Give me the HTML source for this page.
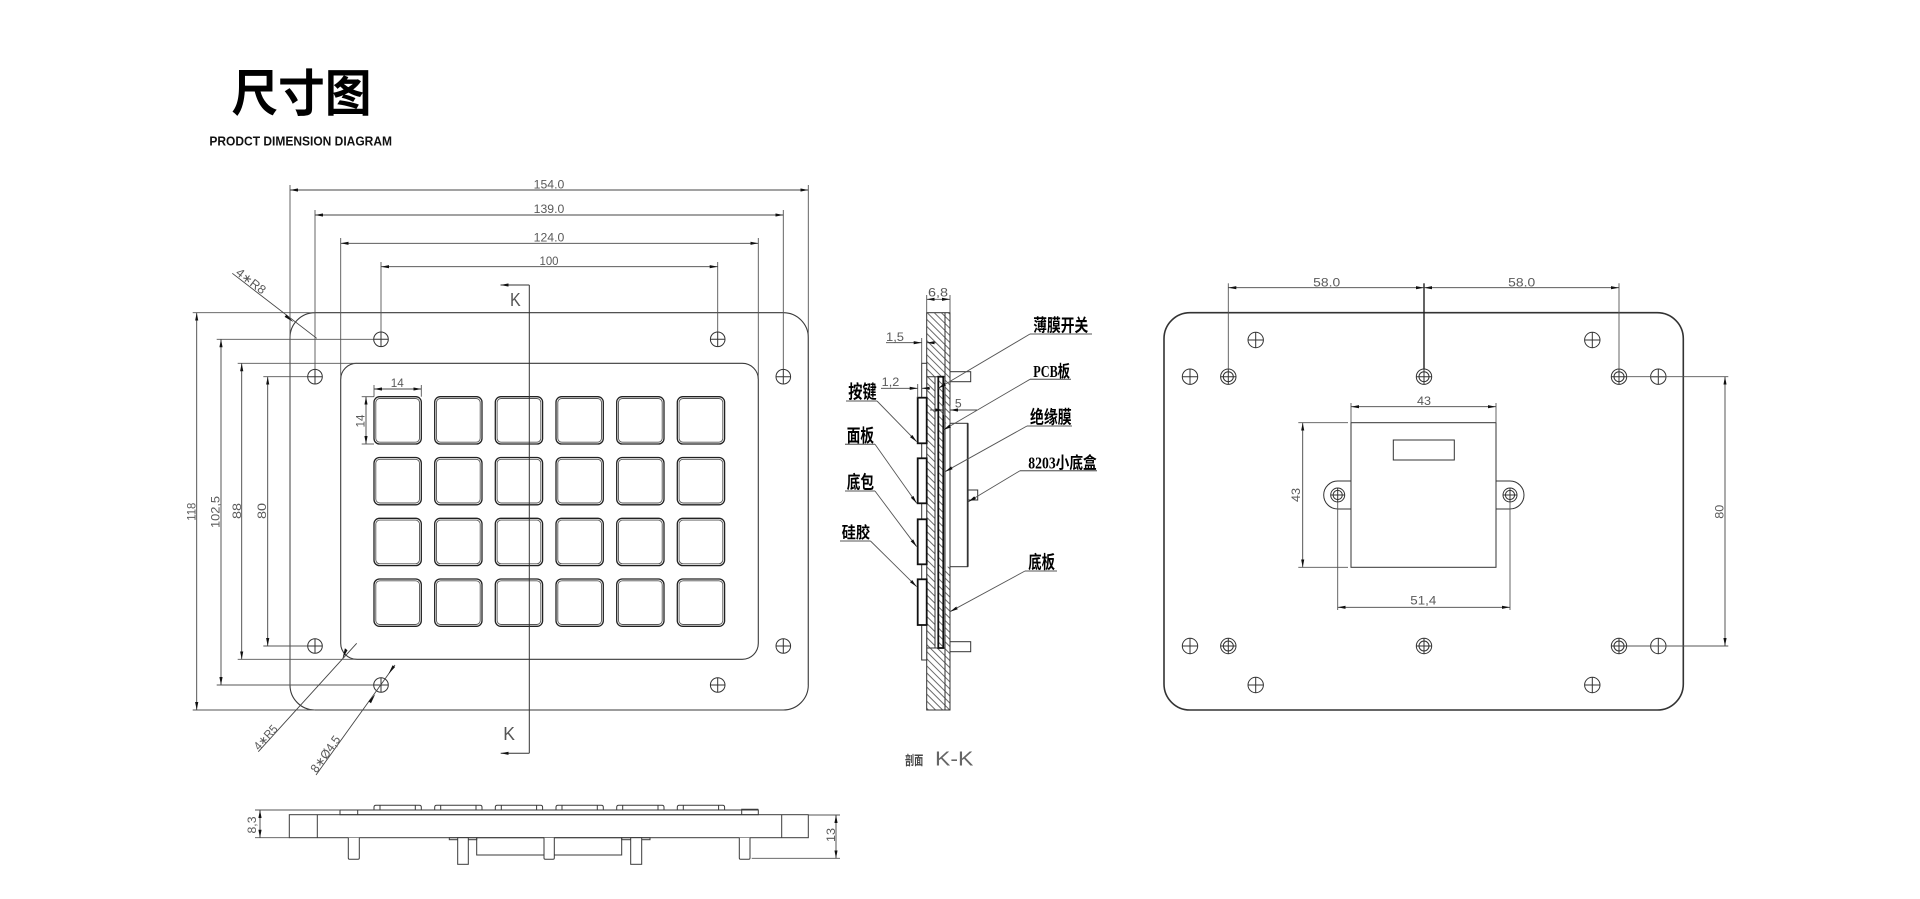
<!DOCTYPE html>
<html><head><meta charset="utf-8"><style>
html,body{margin:0;padding:0;background:#fff;}
svg{display:block;}
.d{font-family:"Liberation Sans","DejaVu Sans",sans-serif;font-size:12.2px;fill:#5a5a5a;}
.lb{font-family:"Noto Sans CJK SC","WenQuanYi Zen Hei",sans-serif;font-weight:700;fill:#000;}
.lbs{font-family:"Liberation Serif","Noto Sans CJK SC",serif;font-weight:700;fill:#000;}
</style></head><body>
<svg width="1920" height="899" viewBox="0 0 1920 899" xmlns="http://www.w3.org/2000/svg">
<defs>
<marker id="a" viewBox="0 0 10 4" refX="10" refY="2" markerWidth="8" markerHeight="3.2" markerUnits="userSpaceOnUse" orient="auto-start-reverse"><path d="M0,0L10,2L0,4z" fill="#111"/></marker>
<pattern id="h" width="5" height="5" patternUnits="userSpaceOnUse" patternTransform="rotate(45)"><line x1="0" y1="0.5" x2="5" y2="0.5" stroke="#444" stroke-width="0.8"/></pattern>
</defs>

<!-- Title -->
<text x="231.5" y="111" class="lb" font-size="50" textLength="140" lengthAdjust="spacingAndGlyphs">尺寸图</text>
<text x="209.4" y="145.7" font-family="Liberation Sans,sans-serif" font-weight="700" font-size="13.2" fill="#111" textLength="182.6" lengthAdjust="spacingAndGlyphs">PRODCT DIMENSION DIAGRAM</text>

<!-- ================= FRONT VIEW ================= -->
<g fill="none" stroke="#3a3a3a" stroke-width="1.1">
  <rect x="290" y="312.7" width="518.3" height="397.3" rx="25"/>
  <rect x="340.7" y="363.3" width="417.6" height="296" rx="16"/>
</g>
<!-- extension lines -->
<g stroke="#555" stroke-width="0.9" fill="none">
  <line x1="290" y1="185" x2="290" y2="685"/>
  <line x1="808.3" y1="185" x2="808.3" y2="685"/>
  <line x1="315" y1="210" x2="315" y2="369.5"/>
  <line x1="783.3" y1="210" x2="783.3" y2="369.5"/>
  <line x1="340.7" y1="238" x2="340.7" y2="379"/>
  <line x1="758.3" y1="238" x2="758.3" y2="379"/>
  <line x1="381" y1="262" x2="381" y2="332"/>
  <line x1="717.7" y1="262" x2="717.7" y2="332"/>
  <line x1="192.7" y1="312.7" x2="315" y2="312.7"/>
  <line x1="192.7" y1="710" x2="315" y2="710"/>
  <line x1="216.7" y1="339.3" x2="373.7" y2="339.3"/>
  <line x1="216.7" y1="685" x2="373.7" y2="685"/>
  <line x1="237.7" y1="363.3" x2="356.7" y2="363.3"/>
  <line x1="237.7" y1="659.3" x2="356.7" y2="659.3"/>
  <line x1="263.3" y1="376.7" x2="307.7" y2="376.7"/>
  <line x1="263.3" y1="646" x2="307.7" y2="646"/>
  <!-- key dim ext -->
  <line x1="374" y1="385" x2="374" y2="396.7"/>
  <line x1="421.3" y1="385" x2="421.3" y2="396.7"/>
  <line x1="361.7" y1="396.7" x2="374" y2="396.7"/>
  <line x1="361.7" y1="444" x2="374" y2="444"/>
</g>
<!-- dimension lines -->
<g stroke="#444" stroke-width="0.9" fill="none" marker-start="url(#a)" marker-end="url(#a)">
  <line x1="290" y1="190" x2="808.3" y2="190"/>
  <line x1="315" y1="215" x2="783.3" y2="215"/>
  <line x1="340.7" y1="243.3" x2="758.3" y2="243.3"/>
  <line x1="381" y1="266.7" x2="717.7" y2="266.7"/>
  <line x1="196.7" y1="312.7" x2="196.7" y2="710"/>
  <line x1="221" y1="339.3" x2="221" y2="685"/>
  <line x1="241.7" y1="363.3" x2="241.7" y2="659.3"/>
  <line x1="267.7" y1="376.7" x2="267.7" y2="646"/>
  <line x1="374" y1="389" x2="421.3" y2="389"/>
  <line x1="366" y1="396.7" x2="366" y2="444"/>
</g>
<g class="d" text-anchor="middle">
  <text x="549" y="188.5" textLength="30.6" lengthAdjust="spacingAndGlyphs">154.0</text>
  <text x="549" y="213" textLength="30.6" lengthAdjust="spacingAndGlyphs">139.0</text>
  <text x="549" y="241.5" textLength="30.6" lengthAdjust="spacingAndGlyphs">124.0</text>
  <text x="549" y="265" textLength="19" lengthAdjust="spacingAndGlyphs">100</text>
  <text x="397.3" y="387" textLength="13" lengthAdjust="spacingAndGlyphs">14</text>
  <text transform="translate(364.3,421) rotate(-90)" textLength="13" lengthAdjust="spacingAndGlyphs">14</text>
  <text transform="translate(195.7,511.7) rotate(-90)" textLength="18" lengthAdjust="spacingAndGlyphs">118</text>
  <text transform="translate(219.3,512) rotate(-90)" textLength="32" lengthAdjust="spacingAndGlyphs">102,5</text>
  <text transform="translate(241,511) rotate(-90)" textLength="16" lengthAdjust="spacingAndGlyphs">88</text>
  <text transform="translate(266,511) rotate(-90)" textLength="16" lengthAdjust="spacingAndGlyphs">80</text>
</g>
<!-- holes front -->
<g stroke="#333" stroke-width="1" fill="none">
  <circle cx="381" cy="339.3" r="7.3"/><path d="M373.7 339.3H388.3M381 332V346.6"/>
  <circle cx="717.7" cy="339.3" r="7.3"/><path d="M710.4 339.3H725M717.7 332V346.6"/>
  <circle cx="315" cy="376.7" r="7.3"/><path d="M307.7 376.7H322.3M315 369.4V384"/>
  <circle cx="783.3" cy="376.7" r="7.3"/><path d="M776 376.7H790.6M783.3 369.4V384"/>
  <circle cx="315" cy="646" r="7.3"/><path d="M307.7 646H322.3M315 638.7V653.3"/>
  <circle cx="783.3" cy="646" r="7.3"/><path d="M776 646H790.6M783.3 638.7V653.3"/>
  <circle cx="381" cy="685" r="7.3"/><path d="M373.7 685H388.3M381 677.7V692.3"/>
  <circle cx="717.7" cy="685" r="7.3"/><path d="M710.4 685H725M717.7 677.7V692.3"/>
</g>
<!-- keys front -->
<g fill="none">
<g id="krow">
  <rect x="374" y="396.7" width="47.3" height="47.3" rx="5.5" stroke="#222" stroke-width="1.3"/><rect x="375.8" y="398.5" width="43.7" height="43.7" rx="4" stroke="#555" stroke-width="0.9"/>
  <rect x="434.7" y="396.7" width="47.3" height="47.3" rx="5.5" stroke="#222" stroke-width="1.3"/><rect x="436.5" y="398.5" width="43.7" height="43.7" rx="4" stroke="#555" stroke-width="0.9"/>
  <rect x="495.3" y="396.7" width="47.3" height="47.3" rx="5.5" stroke="#222" stroke-width="1.3"/><rect x="497.1" y="398.5" width="43.7" height="43.7" rx="4" stroke="#555" stroke-width="0.9"/>
  <rect x="556" y="396.7" width="47.3" height="47.3" rx="5.5" stroke="#222" stroke-width="1.3"/><rect x="557.8" y="398.5" width="43.7" height="43.7" rx="4" stroke="#555" stroke-width="0.9"/>
  <rect x="616.7" y="396.7" width="47.3" height="47.3" rx="5.5" stroke="#222" stroke-width="1.3"/><rect x="618.5" y="398.5" width="43.7" height="43.7" rx="4" stroke="#555" stroke-width="0.9"/>
  <rect x="677.3" y="396.7" width="47.3" height="47.3" rx="5.5" stroke="#222" stroke-width="1.3"/><rect x="679.1" y="398.5" width="43.7" height="43.7" rx="4" stroke="#555" stroke-width="0.9"/>
</g>
<use href="#krow" y="60.8"/>
<use href="#krow" y="121.6"/>
<use href="#krow" y="182.3"/>
</g>
<!-- K section line -->
<g stroke="#333" stroke-width="1" fill="none">
  <path d="M529.3 285V753.3"/>
  <path d="M529.3 285H500.5" marker-end="url(#a)"/>
  <path d="M529.3 753.3H500.7" marker-end="url(#a)"/>
</g>
<text x="510" y="306" font-family="Liberation Sans,sans-serif" font-size="18" fill="#555" textLength="10.7" lengthAdjust="spacingAndGlyphs">K</text>
<text x="503.3" y="740" font-family="Liberation Sans,sans-serif" font-size="18" fill="#555" textLength="11.7" lengthAdjust="spacingAndGlyphs">K</text>
<!-- leaders R8, R5, Ø4.5 -->
<g stroke="#444" stroke-width="0.9" fill="none">
  <line x1="232.3" y1="273.3" x2="316.7" y2="338.3"/>
  <line x1="356.7" y1="643.3" x2="258.3" y2="751.7"/>
  <line x1="395" y1="665" x2="316" y2="775"/>
</g>
<g fill="#111">
  <path d="M293.5 322.1L284.6 316.9L286.4 314.6Z"/>
  <path d="M345.5 655.7L350.5 647.2L347.9 645.2Z" transform="translate(-3,3)"/>
  <path d="M388.3 674.2L392.6 665.2L395.1 667Z"/>
  <path d="M375.2 694.2L371 703.2L368.5 701.4Z"/>
</g>
<g class="d" font-size="12.5">
  <text transform="translate(235,274) rotate(37.6)" textLength="34" lengthAdjust="spacingAndGlyphs">4∗R8</text>
  <text transform="translate(259,751) rotate(-47.8)" textLength="29" lengthAdjust="spacingAndGlyphs">4∗R5</text>
  <text transform="translate(316.5,773.5) rotate(-54.3)" textLength="42" lengthAdjust="spacingAndGlyphs">8∗Ø4,5</text>
</g>

<!-- ================= SIDE VIEW (bottom) ================= -->
<g stroke="#3a3a3a" stroke-width="1" fill="none">
  <rect x="289.3" y="814.7" width="519" height="23"/>
  <line x1="317.3" y1="814.7" x2="317.3" y2="837.7"/>
  <line x1="781.7" y1="814.7" x2="781.7" y2="837.7"/>
  <rect x="340" y="810" width="418.3" height="4.7"/>
  <line x1="357.7" y1="810" x2="357.7" y2="814.7"/>
  <path d="M741.7 814.7V809.3H758.3"/>
  <g id="kt">
    <path d="M374 810V807.3Q374 805.3 376 805.3H419.3Q421.3 805.3 421.3 807.3V810"/>
    <path d="M380 805.3V810M415.3 805.3V810"/>
  </g>
  <use href="#kt" x="60.7"/><use href="#kt" x="121.3"/><use href="#kt" x="182"/><use href="#kt" x="242.7"/><use href="#kt" x="303.3"/>
  <rect x="476.7" y="837.7" width="145" height="17.3"/>
  <rect x="449.3" y="837.7" width="27.4" height="2"/>
  <rect x="621.7" y="837.7" width="28.3" height="2"/>
  <path d="M348.3 837.7V858Q348.3 859.3 349.6 859.3H358Q359.3 859.3 359.3 858V837.7" fill="#fff"/>
  <rect x="457.7" y="837.7" width="10.6" height="26.6" fill="#fff"/>
  <path d="M544 837.7V858Q544 859.3 545.3 859.3H553Q554.3 859.3 554.3 858V837.7" fill="#fff"/>
  <rect x="630.7" y="837.7" width="11" height="26.6" fill="#fff"/>
  <path d="M739.3 837.7V858Q739.3 859.3 740.6 859.3H748.7Q750 859.3 750 858V837.7" fill="#fff"/>
</g>
<g stroke="#555" stroke-width="0.9" fill="none">
  <line x1="255" y1="810" x2="340" y2="810"/>
  <line x1="255" y1="837.7" x2="289.3" y2="837.7"/>
  <line x1="808.3" y1="815" x2="840" y2="815"/>
  <line x1="751.7" y1="858.3" x2="840" y2="858.3"/>
</g>
<g stroke="#444" stroke-width="0.9" marker-start="url(#a)" marker-end="url(#a)">
  <line x1="260" y1="810" x2="260" y2="837.7"/>
  <line x1="836" y1="815" x2="836" y2="858.3"/>
</g>
<g class="d" text-anchor="middle">
  <text transform="translate(256,825) rotate(-90)" textLength="17" lengthAdjust="spacingAndGlyphs">8,3</text>
  <text transform="translate(835,835) rotate(-90)" textLength="14" lengthAdjust="spacingAndGlyphs">13</text>
</g>

<!-- ================= SECTION K-K ================= -->
<g stroke="none">
  <rect x="926.7" y="312.7" width="18.3" height="64" fill="url(#h)"/>
  <rect x="926.7" y="648" width="18.3" height="62" fill="url(#h)"/>
  <rect x="945" y="312.7" width="5" height="110.6" fill="url(#h)"/>
  <rect x="945" y="566.7" width="5" height="143.3" fill="url(#h)"/>
  <rect x="926.7" y="376.7" width="8.3" height="271.3" fill="url(#h)"/>
  <rect x="938.3" y="376.7" width="5" height="271.3" fill="url(#h)"/>
</g>
<g stroke="#333" stroke-width="1" fill="none">
  <rect x="926.7" y="312.7" width="23.3" height="397.3"/>
  <line x1="945" y1="312.7" x2="945" y2="710"/>
  <line x1="935" y1="376.7" x2="935" y2="648"/>
  <line x1="926.7" y1="376.7" x2="945" y2="376.7"/>
  <line x1="926.7" y1="648" x2="945" y2="648"/>
  <rect x="921.7" y="363.3" width="5" height="296.7" fill="#fff"/>
  <rect x="950" y="423.3" width="17.7" height="143.4" fill="#fff"/>
  <line x1="967.7" y1="423.3" x2="967.7" y2="566.7" stroke-width="1.8"/>
  <rect x="950" y="371.7" width="20.7" height="10"/>
  <rect x="950" y="641.7" width="20.7" height="10"/>
  <rect x="967.7" y="490" width="10" height="10"/>
</g>
<g stroke="#111" stroke-width="1.8" fill="#fff">
  <rect x="938.3" y="376.7" width="5" height="271.3" fill="none"/>
  <rect x="917.7" y="397.7" width="9" height="45.6"/>
  <rect x="917.7" y="458.3" width="9" height="45"/>
  <rect x="917.7" y="519.3" width="9" height="45"/>
  <rect x="917.7" y="579.3" width="9" height="45.7"/>
</g>
<!-- section dims -->
<g stroke="#555" stroke-width="0.9" fill="none">
  <line x1="926.7" y1="295" x2="926.7" y2="312.7"/>
  <line x1="950" y1="295" x2="950" y2="312.7"/>
  <line x1="921.7" y1="338" x2="921.7" y2="363.3"/>
  <line x1="917.7" y1="384" x2="917.7" y2="397.7"/>
  <line x1="943.3" y1="405" x2="943.3" y2="415"/>
  <line x1="950" y1="405" x2="950" y2="423.3"/>
</g>
<g stroke="#444" stroke-width="0.9" fill="none">
  <line x1="926.7" y1="299.3" x2="950" y2="299.3" marker-start="url(#a)" marker-end="url(#a)"/>
  <line x1="886" y1="342.7" x2="921.7" y2="342.7" marker-end="url(#a)"/>
  <line x1="936" y1="342.7" x2="926.7" y2="342.7" marker-end="url(#a)"/>
  <line x1="881" y1="388.3" x2="917.7" y2="388.3" marker-end="url(#a)"/>
  <line x1="930" y1="388.3" x2="921.7" y2="388.3" marker-end="url(#a)"/>
  <line x1="930" y1="410" x2="943.3" y2="410" marker-end="url(#a)"/>
  <line x1="977" y1="410" x2="950" y2="410" marker-end="url(#a)"/>
</g>
<g class="d" text-anchor="middle">
  <text x="938" y="296.7" textLength="20" lengthAdjust="spacingAndGlyphs">6,8</text>
  <text x="895" y="341" textLength="18" lengthAdjust="spacingAndGlyphs">1,5</text>
  <text x="890.5" y="386" textLength="17.6" lengthAdjust="spacingAndGlyphs">1,2</text>
  <text x="958.3" y="407.3">5</text>
</g>
<!-- section labels -->
<g stroke="#777" stroke-width="1.3">
  <line x1="846" y1="401" x2="877" y2="401"/>
  <line x1="845" y1="444.3" x2="875" y2="444.3"/>
  <line x1="845" y1="491" x2="875" y2="491"/>
  <line x1="840" y1="541" x2="870.5" y2="541"/>
  <line x1="1030" y1="334" x2="1092" y2="334"/>
  <line x1="1030" y1="379.3" x2="1071" y2="379.3"/>
  <line x1="1027" y1="426" x2="1072" y2="426"/>
  <line x1="1020" y1="470.7" x2="1097" y2="470.7"/>
  <line x1="1025" y1="571" x2="1057" y2="571"/>
</g>
<g stroke="#555" stroke-width="0.9" fill="none" marker-end="url(#a)">
  <line x1="877" y1="401" x2="916.7" y2="441.7"/>
  <line x1="875" y1="444.3" x2="916.7" y2="503.3"/>
  <line x1="875" y1="491" x2="916.7" y2="546.7"/>
  <line x1="870.5" y1="541" x2="916.7" y2="586.7"/>
  <line x1="1030" y1="334" x2="938.3" y2="388.3"/>
  <line x1="1030" y1="379.3" x2="943.3" y2="430"/>
  <line x1="1027" y1="426" x2="945" y2="471.7"/>
  <line x1="1020" y1="470.7" x2="968.3" y2="501.7"/>
  <line x1="1025" y1="571" x2="950" y2="611.7"/>
</g>
<g class="lb">
  <text x="848.3" y="398.5" font-size="18.5" textLength="28.4" lengthAdjust="spacingAndGlyphs">按键</text>
  <text x="846.7" y="441.8" font-size="18" textLength="27.3" lengthAdjust="spacingAndGlyphs">面板</text>
  <text x="846.7" y="488.5" font-size="18" textLength="27.3" lengthAdjust="spacingAndGlyphs">底包</text>
  <text x="841.7" y="538" font-size="16" textLength="28.3" lengthAdjust="spacingAndGlyphs">硅胶</text>
  <text x="1033.3" y="331.3" font-size="17.5" textLength="55" lengthAdjust="spacingAndGlyphs">薄膜开关</text>
  <text x="1030" y="423.5" font-size="18" textLength="41.7" lengthAdjust="spacingAndGlyphs">绝缘膜</text>
  <text x="1028.3" y="568.5" font-size="18" textLength="26.7" lengthAdjust="spacingAndGlyphs">底板</text>
</g>
<g class="lbs">
  <text x="1033.3" y="377" font-size="16.5" textLength="36.7" lengthAdjust="spacingAndGlyphs">PCB板</text>
  <text x="1028.3" y="468.7" font-size="16.5" textLength="68.4" lengthAdjust="spacingAndGlyphs">8203小底盒</text>
</g>
<text x="905" y="765" font-family="Noto Sans CJK SC,sans-serif" font-size="13" font-weight="700" fill="#444" textLength="18.3" lengthAdjust="spacingAndGlyphs">剖面</text>
<text x="935" y="765.5" font-family="Liberation Sans,sans-serif" font-size="20" fill="#666" textLength="38.3" lengthAdjust="spacingAndGlyphs">K-K</text>

<!-- ================= BACK VIEW ================= -->
<rect x="1164" y="312.7" width="519.3" height="397.3" rx="26" fill="none" stroke="#333" stroke-width="1.6"/>
<g stroke="#333" stroke-width="1" fill="none">
  <rect x="1351" y="422.7" width="145" height="144.6"/>
  <rect x="1393.3" y="440" width="61" height="20"/>
  <path d="M1351 481H1337.7A14 14 0 0 0 1337.7 509H1351"/>
  <path d="M1496 481H1510A14 14 0 0 1 1510 509H1496"/>
</g>
<g stroke="#333" stroke-width="1" fill="none">
  <circle cx="1190" cy="376.7" r="7.7"/><path d="M1182.3 376.7H1197.7M1190 369V384.4"/>
  <circle cx="1255.7" cy="340" r="7.7"/><path d="M1248 340H1263.4M1255.7 332.3V347.7"/>
  <circle cx="1592.3" cy="340" r="7.7"/><path d="M1584.6 340H1600M1592.3 332.3V347.7"/>
  <circle cx="1190" cy="646" r="7.7"/><path d="M1182.3 646H1197.7M1190 638.3V653.7"/>
  <circle cx="1255.7" cy="685" r="7.7"/><path d="M1248 685H1263.4M1255.7 677.3V692.7"/>
  <circle cx="1592.3" cy="685" r="7.7"/><path d="M1584.6 685H1600M1592.3 677.3V692.7"/>
  <circle cx="1658.3" cy="376.7" r="7.7"/><path d="M1650.6 376.7H1666M1658.3 369V384.4"/>
  <circle cx="1658.3" cy="646" r="7.7"/><path d="M1650.6 646H1666M1658.3 638.3V653.7"/>
  <!-- double holes -->
  <circle cx="1228.3" cy="376.7" r="7.7"/><circle cx="1228.3" cy="376.7" r="5"/><path d="M1220.6 376.7H1236M1228.3 369V384.4"/>
  <circle cx="1424" cy="376.7" r="7.7"/><circle cx="1424" cy="376.7" r="5"/><path d="M1416.3 376.7H1431.7M1424 369V384.4"/>
  <circle cx="1619" cy="376.7" r="7.7"/><circle cx="1619" cy="376.7" r="5"/><path d="M1611.3 376.7H1626.7M1619 369V384.4"/>
  <circle cx="1228.3" cy="646" r="7.7"/><circle cx="1228.3" cy="646" r="5"/><path d="M1220.6 646H1236M1228.3 638.3V653.7"/>
  <circle cx="1424" cy="646" r="7.7"/><circle cx="1424" cy="646" r="5"/><path d="M1416.3 646H1431.7M1424 638.3V653.7"/>
  <circle cx="1619" cy="646" r="7.7"/><circle cx="1619" cy="646" r="5"/><path d="M1611.3 646H1626.7M1619 638.3V653.7"/>
  <circle cx="1337.7" cy="495" r="7"/><circle cx="1337.7" cy="495" r="4.6"/><path d="M1330.7 495H1344.7M1337.7 488V502"/>
  <circle cx="1510" cy="495" r="7"/><circle cx="1510" cy="495" r="4.6"/><path d="M1503 495H1517M1510 488V502"/>
</g>
<g stroke="#555" stroke-width="0.9" fill="none">
  <line x1="1228.3" y1="283.3" x2="1228.3" y2="369"/>
  <line x1="1619" y1="283.3" x2="1619" y2="369"/>
  <line x1="1351" y1="403" x2="1351" y2="422.7"/>
  <line x1="1496" y1="403" x2="1496" y2="422.7"/>
  <line x1="1298.3" y1="422.7" x2="1348" y2="422.7"/>
  <line x1="1298.3" y1="567.3" x2="1348" y2="567.3"/>
  <line x1="1337.7" y1="502" x2="1337.7" y2="610"/>
  <line x1="1510" y1="502" x2="1510" y2="610"/>
  <line x1="1627" y1="376.7" x2="1728.3" y2="376.7"/>
  <line x1="1627" y1="646" x2="1728.3" y2="646"/>
</g>
<line x1="1424" y1="283.3" x2="1424" y2="369" stroke="#222" stroke-width="1.4"/>
<g stroke="#444" stroke-width="0.9" fill="none" marker-start="url(#a)" marker-end="url(#a)">
  <line x1="1228.3" y1="287.7" x2="1424" y2="287.7"/>
  <line x1="1424" y1="287.7" x2="1619" y2="287.7"/>
  <line x1="1351" y1="406.7" x2="1496" y2="406.7"/>
  <line x1="1302.7" y1="422.7" x2="1302.7" y2="567.3"/>
  <line x1="1337.7" y1="607.3" x2="1510" y2="607.3"/>
  <line x1="1725" y1="376.7" x2="1725" y2="646"/>
</g>
<g class="d" text-anchor="middle">
  <text x="1326.7" y="286.5" textLength="27" lengthAdjust="spacingAndGlyphs">58.0</text>
  <text x="1521.7" y="286.5" textLength="27" lengthAdjust="spacingAndGlyphs">58.0</text>
  <text x="1424" y="405" textLength="14" lengthAdjust="spacingAndGlyphs">43</text>
  <text transform="translate(1300,495) rotate(-90)" textLength="14" lengthAdjust="spacingAndGlyphs">43</text>
  <text x="1423.3" y="604.3" textLength="26" lengthAdjust="spacingAndGlyphs">51,4</text>
  <text transform="translate(1723.3,511.7) rotate(-90)" textLength="14" lengthAdjust="spacingAndGlyphs">80</text>
</g>
</svg>
</body></html>
